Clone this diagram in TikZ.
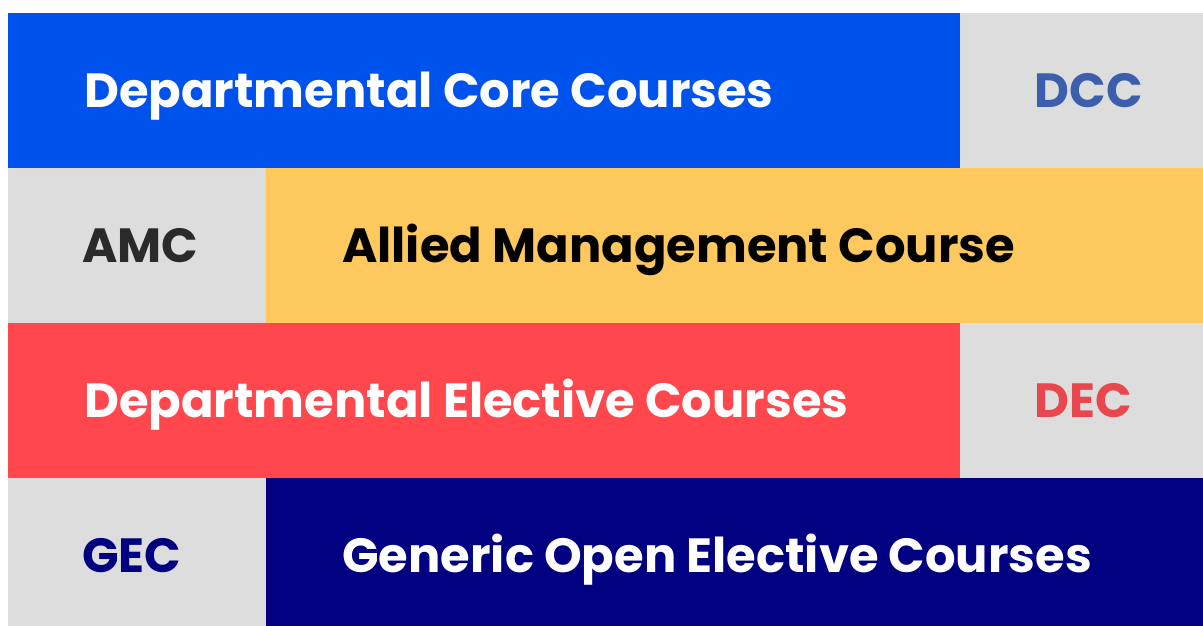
\documentclass[tikz,border=0pt]{standalone}
\usepackage{fontspec}
\setmainfont{Poppins}
\usetikzlibrary{positioning}
\definecolor{dccblue}{HTML}{0052EC}
\definecolor{amcyellow}{HTML}{FDC85E}
\definecolor{decred}{HTML}{FF474D}
\definecolor{gecnavy}{HTML}{000080}
\definecolor{taggray}{HTML}{DDDDDD}
\definecolor{dcctext}{HTML}{3B5EAD}
\definecolor{amctext}{HTML}{2A2A2A}
\definecolor{dectext}{HTML}{E8474E}
\begin{document}
\begin{tikzpicture}[x=0.75pt,y=-0.75pt,
 band/.style={rectangle,inner sep=0pt,anchor=north west,minimum height=116.25pt},
 wide/.style={band,minimum width=714pt},
 narrow/.style={band,minimum width=182.25pt,fill=taggray},
 lefttag/.style={band,minimum width=193.5pt,fill=taggray},
 longband/.style={band,minimum width=702.75pt},
 txt/.style={inner sep=0pt,anchor=west,text height=25.3pt,text depth=0pt,
             font=\fontsize{36}{38}\selectfont\bfseries}]
\useasboundingbox[fill=white] (0,0) rectangle (1203,625);
% row 1
\node[wide,fill=dccblue] (dcc) at (8,13) {};
\node[narrow] (dcctag) at (960,13) {};
% row 2
\node[lefttag] (amctag) at (8,168) {};
\node[longband,fill=amcyellow] (amc) at (266,168) {};
% row 3
\node[wide,fill=decred] (dec) at (8,323) {};
\node[narrow] (dectag) at (960,323) {};
% row 4
\node[lefttag] (gectag) at (8,478) {};
\node[longband,fill=gecnavy] (gec) at (266,478) {};
% texts
\node[txt,text=white,right=57pt of dcc.west] (dcclabel) {Departmental Core Courses};
\node[txt,text=dcctext,right=56pt of dcctag.west] (dccshort) {DCC};
\node[txt,text=amctext,right=55.5pt of amctag.west] (amcshort) {AMC};
\node[txt,text=black,right=57pt of amc.west] (amclabel) {Allied Management Course};
\node[txt,text=white,right=57pt of dec.west] (declabel) {Departmental Elective Courses};
\node[txt,text=dectext,right=56pt of dectag.west] (decshort) {DEC};
\node[txt,text=gecnavy,right=55.5pt of gectag.west] (gecshort) {GEC};
\node[txt,text=white,right=57pt of gec.west] (geclabel) {Generic Open Elective Courses};
\end{tikzpicture}
\end{document}
